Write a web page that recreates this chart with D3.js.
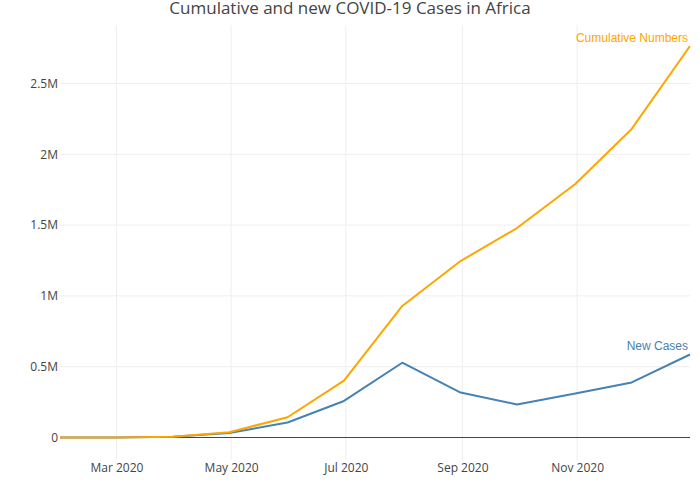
<!DOCTYPE html>
<html><head><meta charset="utf-8">
<script src="https://cdn.jsdelivr.net/npm/d3@7"></script>
<style>body{margin:0;background:#fff}svg{display:block}</style>
</head><body>
<svg id="c" width="700" height="500"></svg>
<script>
const dates = ["2020-01-31","2020-02-29","2020-03-31","2020-04-30","2020-05-31","2020-06-30","2020-07-31","2020-08-31","2020-09-30","2020-10-31","2020-11-30","2020-12-31"];
const cumulative = [10, 40, 5500, 37000, 143000, 401000, 929000, 1246000, 1479000, 1790000, 2179000, 2765000];
const newCases = [10, 30, 5400, 31500, 106000, 258000, 528000, 317000, 233000, 311000, 389000, 586000];
const yTicks = [0, 500000, 1000000, 1500000, 2000000, 2500000];
const yTickLabels = ["0", "0.5M", "1M", "1.5M", "2M", "2.5M"];
const xTicks = ["2020-03-01","2020-05-01","2020-07-01","2020-09-01","2020-11-01"];
const xTickLabels = ["Mar 2020","May 2020","Jul 2020","Sep 2020","Nov 2020"];

const parse = d3.utcParse("%Y-%m-%d");
const svg = d3.select("#c");
const L = 60, R = 690, T = 25, B = 460;
const x = d3.scaleUtc().domain([parse(dates[0]), parse(dates[dates.length-1])]).range([L, R]);
const y = d3.scaleLinear().domain([-159000, 2913000]).range([B, T]);

const grid = svg.append("g");
xTicks.forEach(t => {
  grid.append("line").attr("x1", x(parse(t))).attr("x2", x(parse(t)))
    .attr("y1", T).attr("y2", B).attr("stroke", "#eee").attr("stroke-width", 1);
});
yTicks.forEach(t => {
  if (t === 0) return;
  grid.append("line").attr("x1", L).attr("x2", R).attr("y1", y(t)).attr("y2", y(t))
    .attr("stroke", "#eee").attr("stroke-width", 1);
});
svg.append("line").attr("x1", L).attr("x2", R).attr("y1", y(0)).attr("y2", y(0))
  .attr("stroke", "#444").attr("stroke-width", 1);

const font = "'Open Sans', sans-serif";
const yAxis = d3.axisLeft(y).tickValues(yTicks).tickFormat((d, i) => yTickLabels[i]).tickSize(0).tickPadding(2);
const ya = svg.append("g").attr("transform", `translate(${L},0)`).call(yAxis);
ya.select(".domain").remove();
ya.selectAll("text").attr("font-family", font).attr("font-size", 12).attr("fill", "#444");

const xAxis = d3.axisBottom(x).tickValues(xTicks.map(parse)).tickFormat((d, i) => xTickLabels[i]).tickSize(0).tickPadding(0);
const xa = svg.append("g").attr("transform", `translate(0,${y(0)+26})`).call(xAxis);
xa.select(".domain").remove();
xa.selectAll("text").attr("font-family", font).attr("font-size", 12).attr("fill", "#444");

const line = d3.line().x((d, i) => x(parse(dates[i]))).y(d => y(d));
svg.append("path").datum(newCases).attr("d", line).attr("fill", "none")
  .attr("stroke", "#4682B4").attr("stroke-width", 2).attr("stroke-linejoin", "round");
svg.append("path").datum(cumulative).attr("d", line).attr("fill", "none")
  .attr("stroke", "#FFA500").attr("stroke-width", 2).attr("stroke-linejoin", "round");

svg.append("text").attr("x", 350).attr("y", 14).attr("text-anchor", "middle")
  .attr("font-family", font).attr("font-size", 17).attr("fill", "#444")
  .text("Cumulative and new COVID-19 Cases in Africa");

svg.append("text").attr("x", 688).attr("y", 42).attr("text-anchor", "end")
  .attr("font-family", "'Liberation Sans', Arial, sans-serif").attr("font-size", 12).attr("fill", "#FFA500")
  .text("Cumulative Numbers");
svg.append("text").attr("x", 688).attr("y", 350).attr("text-anchor", "end")
  .attr("font-family", "'Liberation Sans', Arial, sans-serif").attr("font-size", 12).attr("fill", "#4682B4")
  .text("New Cases");
</script>
</body></html>
